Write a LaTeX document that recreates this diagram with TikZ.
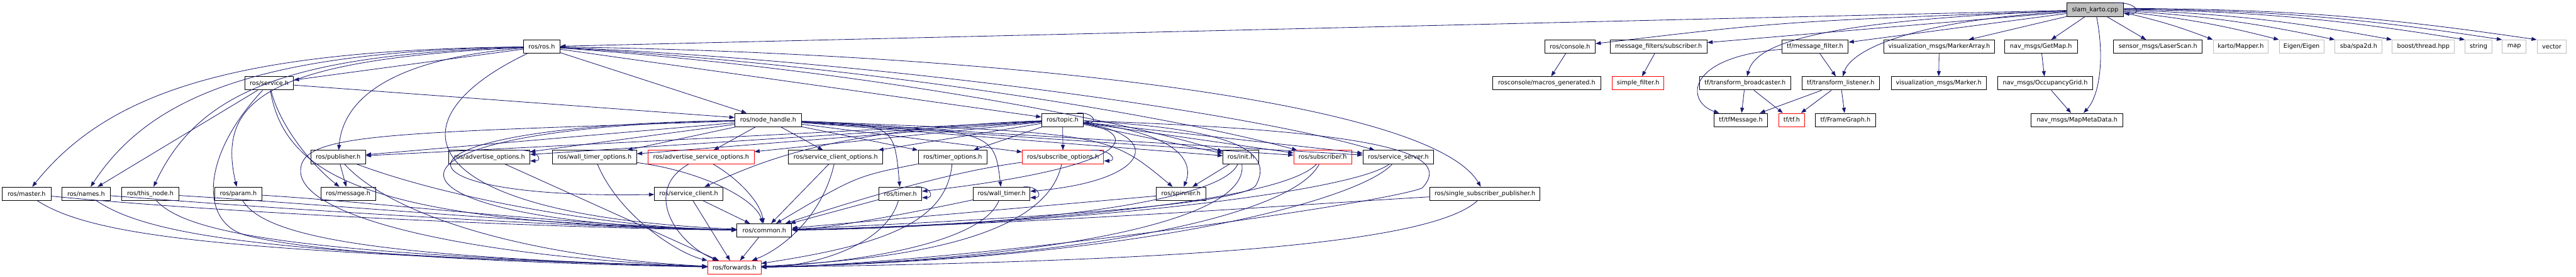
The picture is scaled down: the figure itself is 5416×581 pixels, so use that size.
\documentclass[tikz,border=0pt]{standalone}
\usepackage{fontspec}
\setmainfont{DejaVu Sans}
\usetikzlibrary{arrows.meta}
\definecolor{edgec}{RGB}{25,25,112}
\definecolor{fillgray}{RGB}{191,191,191}
\definecolor{undoc}{RGB}{191,191,191}
\definecolor{trunc}{RGB}{255,0,0}
\begin{document}
\begin{tikzpicture}[x=1pt,y=1pt,
  box/.style={draw=black, line width=1.3pt, fill=white, minimum height=28pt, inner sep=0pt,
              font=\fontsize{12.8pt}{14pt}\selectfont},
  redbox/.style={box, draw=trunc},
  graybox/.style={box, draw=undoc},
  srcbox/.style={box, fill=fillgray},
  dep/.style={draw=edgec, line width=1.1pt, -{Triangle[length=11pt,width=8pt]}}]
\useasboundingbox (0,0) rectangle (5416,-581);
% row 0
\node[srcbox, minimum width=120pt] (S) at (4405,-20.5) {slam\_karto.cpp};
% row 1
\node[box, minimum width=77pt] (R) at (1139,-98) {ros/ros.h};
\node[box, minimum width=106pt] (con) at (3301,-98) {ros/console.h};
\node[box, minimum width=204pt] (mfs) at (3487,-98) {message\_filters/subscriber.h};
\node[box, minimum width=140pt] (tmf) at (3816,-98) {tf/message\_filter.h};
\node[box, minimum width=233pt] (mka) at (4077,-98) {visualization\_msgs/MarkerArray.h};
\node[box, minimum width=153pt] (gmp) at (4291,-98) {nav\_msgs/GetMap.h};
\node[box, minimum width=187pt] (lsc) at (4537,-98) {sensor\_msgs/LaserScan.h};
\node[graybox, minimum width=116pt] (kar) at (4711,-98) {karto/Mapper.h};
\node[graybox, minimum width=94pt] (eig) at (4839,-98) {Eigen/Eigen};
\node[graybox, minimum width=99pt] (sba) at (4959,-98) {sba/spa2d.h};
\node[graybox, minimum width=131pt] (bth) at (5095,-98) {boost/thread.hpp};
\node[graybox, minimum width=56pt] (str) at (5211,-98) {string};
\node[graybox, minimum width=50pt] (mapn) at (5286,-98) {map};
\node[graybox, minimum width=62pt] (vec) at (5365,-98) {vector};
% row 2
\node[box, minimum width=102pt] (sv) at (566,-175) {ros/service.h};
\node[box, minimum width=227pt] (mac) at (3252,-175) {rosconsole/macros\_generated.h};
\node[redbox, minimum width=109pt] (sf) at (3444,-175) {simple\_filter.h};
\node[box, minimum width=192pt] (tfb) at (3669,-175) {tf/transform\_broadcaster.h};
\node[box, minimum width=163pt] (tfl) at (3870,-175) {tf/transform\_listener.h};
\node[box, minimum width=200pt] (mk) at (4076,-175) {visualization\_msgs/Marker.h};
\node[box, minimum width=199pt] (og) at (4300,-175) {nav\_msgs/OccupancyGrid.h};
% row 3
\node[box, minimum width=140pt] (nh) at (1615,-252) {ros/node\_handle.h};
\node[box, minimum width=88pt] (tp) at (2234,-252) {ros/topic.h};
\node[box, minimum width=112pt] (tfm) at (3660,-252) {tf/tfMessage.h};
\node[redbox, minimum width=55pt] (tft) at (3767,-252) {tf/tf.h};
\node[box, minimum width=126pt] (fg) at (3880,-252) {tf/FrameGraph.h};
\node[box, minimum width=193pt] (mmd) at (4367,-252) {nav\_msgs/MapMetaData.h};
% row 4
\node[box, minimum width=115pt] (pb) at (711,-330) {ros/publisher.h};
\node[box, minimum width=170pt] (ao) at (1029,-330) {ros/advertise\_options.h};
\node[box, minimum width=177pt] (wto) at (1250,-330) {ros/wall\_timer\_options.h};
\node[redbox, minimum width=223pt] (aso) at (1474,-330) {ros/advertise\_service\_options.h};
\node[box, minimum width=198pt] (sco) at (1757,-330) {ros/service\_client\_options.h};
\node[box, minimum width=145pt] (tmo) at (2003,-330) {ros/timer\_options.h};
\node[redbox, minimum width=171pt] (so) at (2235,-330) {ros/subscribe\_options.h};
\node[box, minimum width=75pt] (ini) at (2609,-330) {ros/init.h};
\node[redbox, minimum width=122pt] (sb) at (2781,-330) {ros/subscriber.h};
\node[box, minimum width=149pt] (ss) at (2940,-330) {ros/service\_server.h};
% row 5
\node[box, minimum width=103pt] (mas) at (56,-407) {ros/master.h};
\node[box, minimum width=102pt] (nam) at (181,-407) {ros/names.h};
\node[box, minimum width=121pt] (thn) at (316,-407) {ros/this\_node.h};
\node[box, minimum width=100pt] (par) at (501,-407) {ros/param.h};
\node[box, minimum width=115pt] (msg) at (732,-407) {ros/message.h};
\node[box, minimum width=144pt] (sc) at (1448,-407) {ros/service\_client.h};
\node[box, minimum width=90pt] (tm) at (1893,-407) {ros/timer.h};
\node[box, minimum width=119pt] (wt) at (2106,-407) {ros/wall\_timer.h};
\node[box, minimum width=104pt] (sp) at (2483,-407) {ros/spinner.h};
\node[box, minimum width=231pt] (ssp) at (3122,-407) {ros/single\_subscriber\_publisher.h};
% rows 6,7
\node[box, minimum width=115pt] (cm) at (1607,-484) {ros/common.h};
\node[redbox, minimum width=112pt] (fw) at (1544,-562) {ros/forwards.h};

% ---- edges from slam_karto.cpp
\draw[dep] (S) -- (R);
\draw[dep] (S) .. controls (3750,-45) .. (con);
\draw[dep] (S) -- (mfs);
\draw[dep] (S) -- (tmf);
\draw[dep] (S) .. controls (3780,-45) and (3690,-100) .. (tfb);
\draw[dep] (S) .. controls (4000,-45) and (3890,-110) .. (tfl);
\draw[dep] (S) -- (mka);
\draw[dep] (S) -- (gmp);
\draw[dep] (S) .. controls (4425,-120) and (4415,-200) .. (mmd);
\draw[dep] (S) -- (lsc);
\draw[dep] ([yshift=-6pt]S.east) to[bend left=4] (kar.north west);
\draw[dep] ([yshift=-4pt]S.east) to[bend left=4] (eig.north west);
\draw[dep] ([yshift=-2pt]S.east) to[bend left=4] (sba.north west);
\draw[dep] (S.east) to[bend left=4] (bth.north west);
\draw[dep] ([yshift=1pt]S.east) to[bend left=4] (str.north west);
\draw[dep] ([yshift=2pt]S.east) to[bend left=4] (mapn.north west);
\draw[dep] ([yshift=3pt]S.east) to[bend left=4] (vec.north west);
\draw[dep] ([xshift=-18pt]S.north east) .. controls +(45,2) and +(40,-2) .. ([yshift=-8pt]S.east);
% ---- tf / msgs cluster
\draw[dep] (con) -- (mac);
\draw[dep] (mfs) -- (sf);
\draw[dep] (gmp) -- (og);
\draw[dep] (og) -- (mmd);
\draw[dep] (mka) -- (mk);
\draw[dep] (tmf) -- (tfl);
\draw[dep] (tmf) .. controls (3540,-120) and (3545,-215) .. (tfm);
\draw[dep] (tfb) -- (tfm);
\draw[dep] (tfb) -- (tft);
\draw[dep] (tfl) -- (tfm);
\draw[dep] (tfl) -- (tft);
\draw[dep] (tfl) -- (fg);
% ---- ros/ros.h
\draw[dep] (R) .. controls (500,-105) and (230,-190) .. (mas);
\draw[dep] (R) .. controls (560,-108) and (320,-195) .. (nam);
\draw[dep] (R) .. controls (620,-115) and (420,-185) .. (thn);
\draw[dep] (R) .. controls (560,-125) and (455,-210) .. (par);
\draw[dep] (R) -- (sv);
\draw[dep] (R) .. controls (800,-125) and (720,-220) .. (pb);
\draw[dep] (R) .. controls (820,-250) and (850,-450) .. (cm);
\draw[dep] (R) -- (nh);
\draw[dep] (R) -- (tp);
\draw[dep] (R) .. controls (1800,-145) and (2350,-250) .. (ini);
\draw[dep] (R) .. controls (1800,-135) and (2450,-240) .. (sb);
\draw[dep] (R) .. controls (1800,-125) and (2600,-230) .. (ss);
\draw[dep] (R) .. controls (2000,-110) and (3000,-200) .. (ssp);
% ---- ros/service.h
\draw[dep] (sv) -- (nam);
\draw[dep] (sv) -- (nh);
\draw[dep] (sv) .. controls (590,-270) and (660,-350) .. (msg);
\draw[dep] (sv) .. controls (600,-380) and (800,-470) .. (cm);
\draw[dep] (sv) .. controls (420,-330) and (420,-470) .. (520,-495) .. controls (700,-540) and (1200,-555) .. (fw);
% ---- ros/publisher.h
\draw[dep] (pb) -- (msg);
\draw[dep] (pb) .. controls (950,-420) and (1300,-480) .. (cm);
\draw[dep] (pb) .. controls (820,-450) and (1100,-540) .. (fw);
% ---- left row 5
\draw[dep] (mas) .. controls (500,-450) and (1200,-480) .. (cm);
\draw[dep] (mas) .. controls (200,-500) and (500,-530) .. (fw);
\draw[dep] (nam) .. controls (600,-440) and (1200,-478) .. (cm);
\draw[dep] (nam) .. controls (320,-500) and (600,-535) .. (fw);
\draw[dep] (thn) .. controls (700,-430) and (1200,-476) .. (cm);
\draw[dep] (thn) .. controls (400,-500) and (700,-535) .. (fw);
\draw[dep] (par) .. controls (800,-425) and (1200,-474) .. (cm);
\draw[dep] (par) .. controls (560,-500) and (800,-540) .. (fw);
% ---- ros/node_handle.h
\draw[dep] (nh) -- (pb);
\draw[dep] (nh) .. controls (800,-280) and (630,-280) .. (632,-360) .. controls (635,-460) and (1000,-540) .. (fw);
\draw[dep] (nh) .. controls (760,-265) and (800,-420) .. (sc);
\draw[dep] (nh) .. controls (700,-270) and (760,-470) .. (cm);
\draw[dep] (nh) -- (ao);
\draw[dep] (nh) -- (wto);
\draw[dep] (nh) -- (aso);
\draw[dep] (nh) -- (sco);
\draw[dep] (nh) -- (tmo);
\draw[dep] (nh) -- (so);
\draw[dep] (nh) -- (ini);
\draw[dep] (nh) -- (sb);
\draw[dep] (nh) -- (ss);
\draw[dep] (nh) .. controls (1880,-262) .. (tm);
\draw[dep] (nh) .. controls (2090,-275) .. (wt);
\draw[dep] (nh) .. controls (2330,-280) .. (sp);
% ---- ros/topic.h
\draw[dep] (tp) -- (pb);
\draw[dep] (tp) -- (ao);
\draw[dep] (tp) -- (wto);
\draw[dep] (tp) -- (aso);
\draw[dep] (tp) -- (sco);
\draw[dep] (tp) -- (tmo);
\draw[dep] (tp) -- (so);
\draw[dep] (tp) .. controls (1750,-270) and (1600,-340) .. (sc);
\draw[dep] (tp) -- (ini);
\draw[dep] (tp) -- (sb);
\draw[dep] (tp) -- (ss);
\draw[dep] (tp) .. controls (2400,-280) and (2390,-350) .. (tm);
\draw[dep] (tp) .. controls (2450,-285) and (2420,-380) .. (wt);
\draw[dep] (tp) .. controls (2480,-280) and (2510,-340) .. (sp);
\draw[dep] (tp) .. controls (2600,-270) and (2680,-320) .. (2640,-390) .. controls (2600,-440) and (1900,-470) .. (cm);
\draw[dep] (tp) .. controls (2900,-275) and (3060,-320) .. (2990,-395) .. controls (2900,-430) and (2000,-555) .. (fw);
% ---- self loops
\draw[dep] ([xshift=-14pt]tp.north east) .. controls +(35,2) and +(30,0) .. ([yshift=-6pt]tp.east);
\draw[dep] ([xshift=-28pt]ao.north east) .. controls +(45,2) and +(28,0) .. ([yshift=-8pt]ao.east);
\draw[dep] ([xshift=-28pt]so.north east) .. controls +(45,2) and +(28,0) .. ([yshift=-8pt]so.east);
\draw[dep] ([xshift=-14pt]tm.north east) .. controls +(32,2) and +(26,0) .. ([yshift=-8pt]tm.east);
\draw[dep] ([xshift=-14pt]wt.north east) .. controls +(32,2) and +(26,0) .. ([yshift=-8pt]wt.east);
% ---- rows 4/5 to common / forwards
\draw[dep] (ao) -- (fw);
\draw[dep] (wto) .. controls (1300,-450) and (1420,-530) .. (fw);
\draw[dep] (wto) .. controls (1480,-360) and (1590,-420) .. (cm);
\draw[dep] (aso) .. controls (1350,-400) and (1420,-510) .. (fw);
\draw[dep] (aso) .. controls (1560,-380) and (1600,-430) .. (cm);
\draw[dep] (sco) -- (cm);
\draw[dep] (sco) .. controls (1730,-450) and (1650,-520) .. (fw);
\draw[dep] (sc) -- (cm);
\draw[dep] (sc) -- (fw);
\draw[dep] (tmo) .. controls (1800,-370) .. (cm);
\draw[dep] (tmo) .. controls (1990,-470) and (1850,-515) .. (fw);
\draw[dep] (so) .. controls (2000,-360) and (1800,-420) .. (cm);
\draw[dep] (so) .. controls (2200,-500) and (1900,-545) .. (fw);
\draw[dep] (tm) -- (cm);
\draw[dep] (tm) .. controls (1860,-520) and (1700,-560) .. (fw);
\draw[dep] (wt) .. controls (1950,-440) and (1750,-480) .. (cm);
\draw[dep] (wt) .. controls (2060,-520) and (1750,-555) .. (fw);
\draw[dep] (sp) -- (cm);
\draw[dep] (ini) -- (sp);
\draw[dep] (ini) .. controls (2560,-440) and (2000,-480) .. (cm);
\draw[dep] (ini) .. controls (2630,-480) and (2100,-550) .. (fw);
\draw[dep] (sb) .. controls (2700,-420) and (2200,-470) .. (cm);
\draw[dep] (sb) .. controls (2720,-450) and (2300,-545) .. (fw);
\draw[dep] (ss) .. controls (2850,-400) and (2300,-470) .. (cm);
\draw[dep] (ss) .. controls (2860,-420) and (2400,-545) .. (fw);
\draw[dep] (ssp) .. controls (2800,-425) and (2200,-470) .. (cm);
\draw[dep] (ssp) .. controls (3000,-520) and (2400,-550) .. (fw);
\draw[dep] (cm) -- (fw);
\end{tikzpicture}
\end{document}
